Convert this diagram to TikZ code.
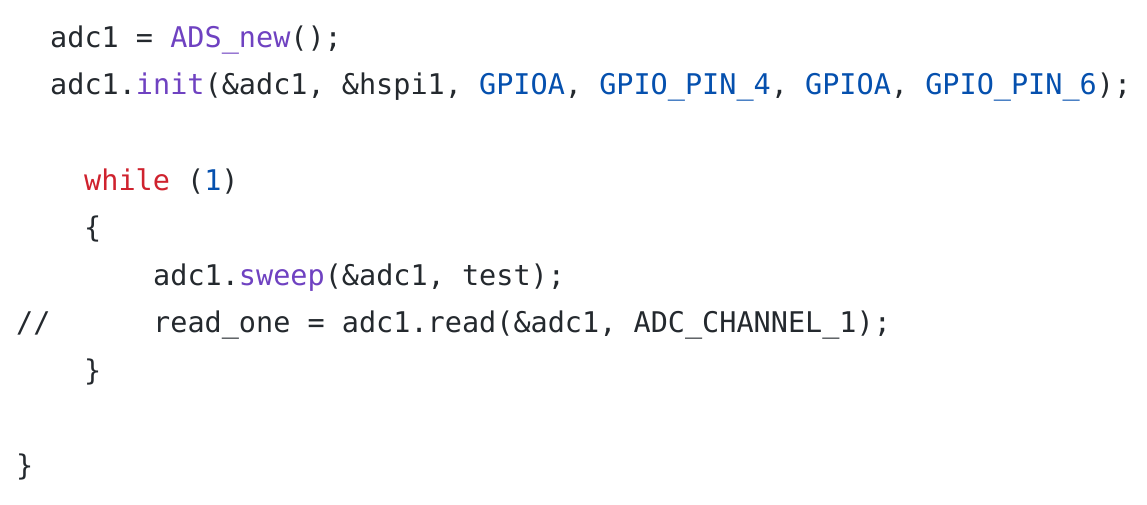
\documentclass[tikz,border=0pt]{standalone}
\usepackage{fontspec}
\setmonofont{DejaVu Sans Mono}
\definecolor{txt}{HTML}{24292E}
\definecolor{kw}{HTML}{CF222E}
\definecolor{fn}{HTML}{6F42C1}
\definecolor{cst}{HTML}{0550AE}
\newcommand{\F}[1]{\textcolor{fn}{#1}}
\newcommand{\C}[1]{\textcolor{cst}{#1}}
\newcommand{\K}[1]{\textcolor{kw}{#1}}
\begin{document}
\begin{tikzpicture}[x=1pt,y=-1pt,
  code/.style={anchor=base west,inner sep=0pt,text=txt,font=\ttfamily\fontsize{28.5}{30}\selectfont}]
\useasboundingbox (0,0) rectangle (1147,504);
\node[code] (l1) at (50,47) {adc1 = \F{ADS\_new}();};
\node[code] (l2) at (50,94) {adc1.\F{init}(\&adc1, \&hspi1, \C{GPIOA}, \C{GPIO\_PIN\_4}, \C{GPIOA}, \C{GPIO\_PIN\_6});};
\node[code] (l3) at (84,190) {\K{while} (\C{1})};
\node[code] (l4) at (84,237) {\{};
\node[code] (l5) at (153,285) {adc1.\F{sweep}(\&adc1, test);};
\node[code] (l6) at (16,332) {//};
\node[code] (l7) at (153,332) {read\_one = adc1.read(\&adc1, ADC\_CHANNEL\_1);};
\node[code] (l8) at (84,380) {\}};
\node[code] (l9) at (16,475) {\}};
\end{tikzpicture}
\end{document}
